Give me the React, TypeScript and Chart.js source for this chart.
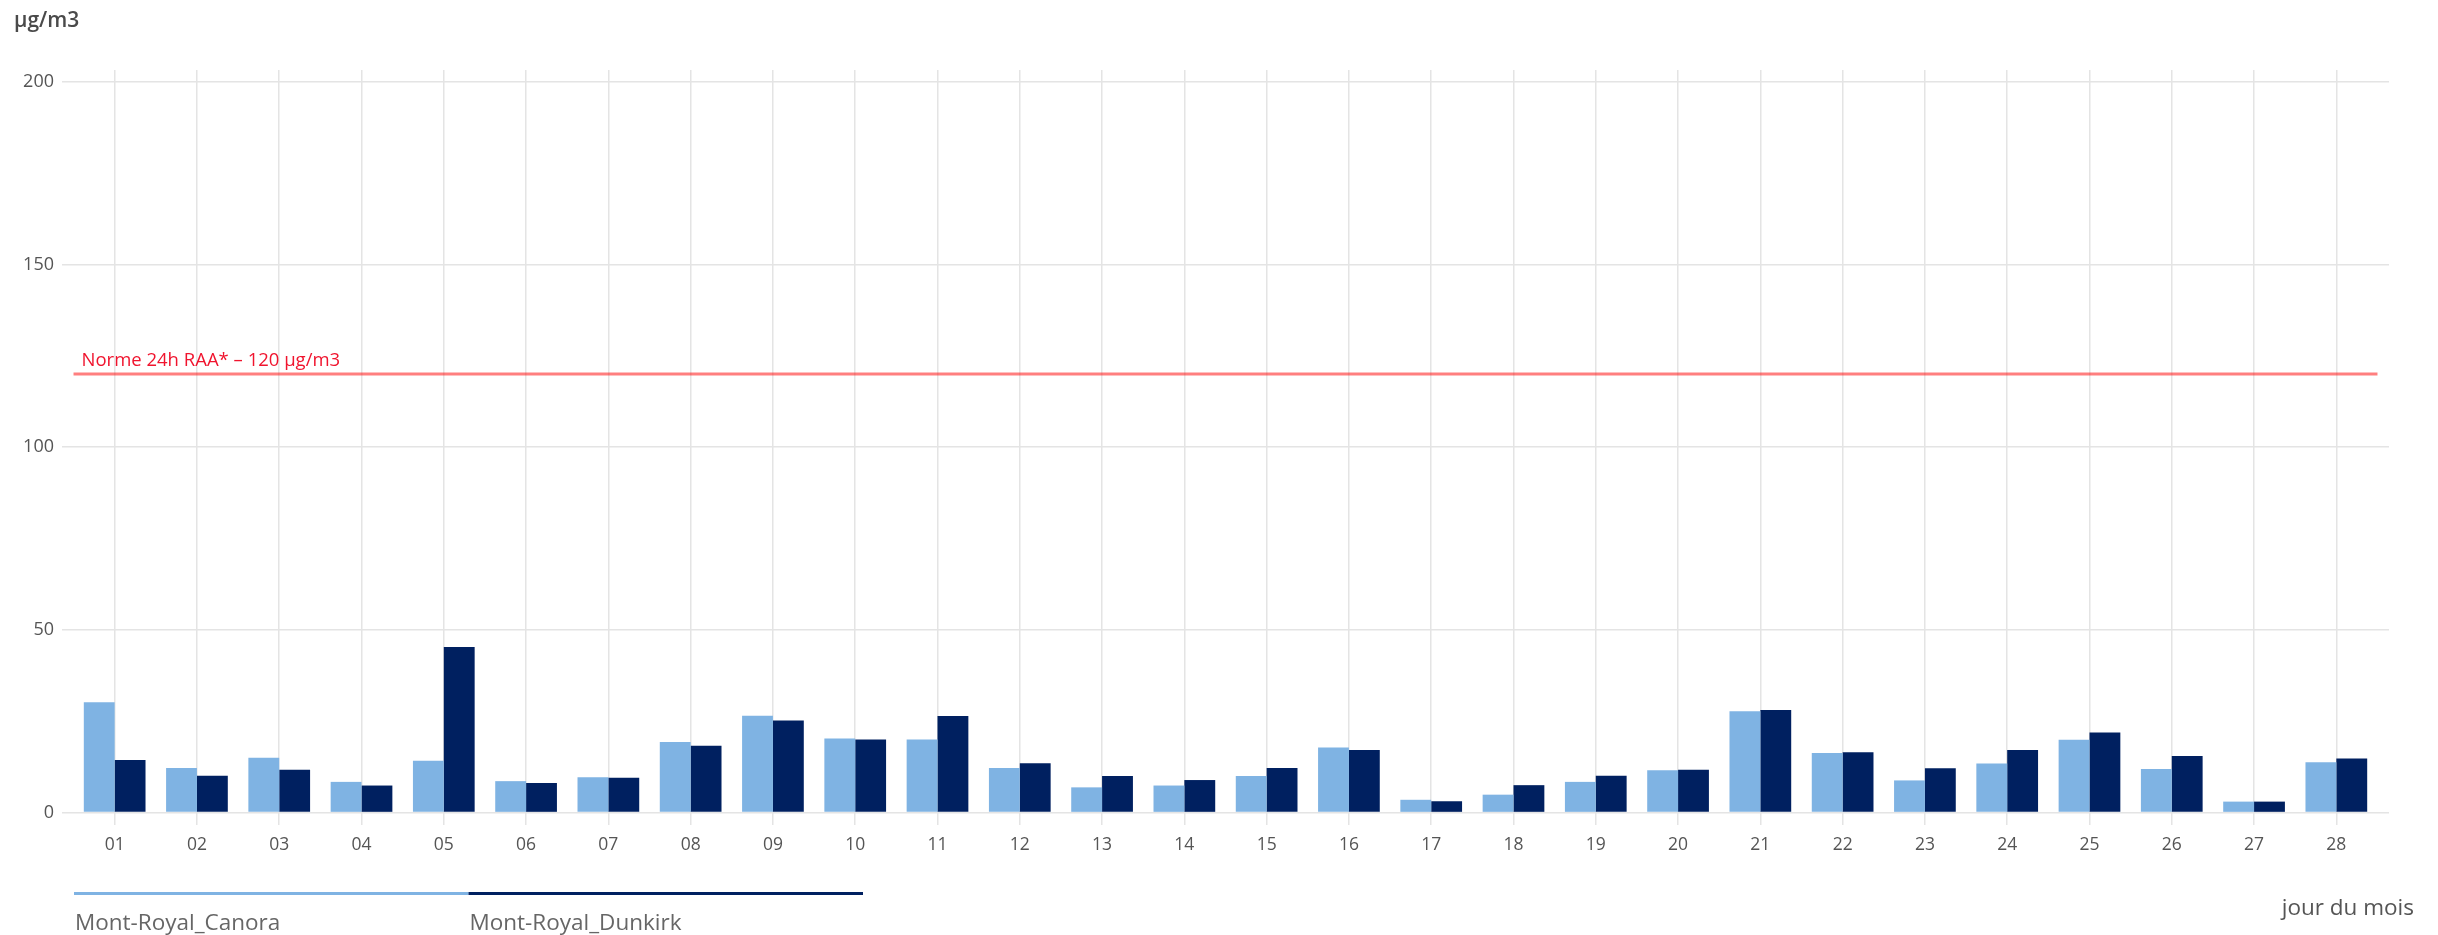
import React, { useEffect, useRef } from "react";
import { Chart, registerables } from "chart.js";

Chart.register(...registerables);

const categories = ["01","02","03","04","05","06","07","08","09","10","11","12","13","14","15","16","17","18","19","20","21","22","23","24","25","26","27","28"];
const canora = [30.2,12.2,15.0,8.4,14.2,8.6,9.7,19.3,26.5,20.3,20.0,12.2,6.9,7.4,10.0,17.8,3.5,4.9,8.4,11.6,27.7,16.3,8.8,13.4,19.9,11.9,3.0,13.8];
const dunkirk = [14.4,10.1,11.7,7.4,45.3,8.1,9.5,18.3,25.2,20.0,26.4,13.5,10.0,8.9,12.2,17.1,3.1,7.5,10.1,11.7,28.1,16.5,12.1,17.1,21.9,15.5,3.0,14.8];
const yTicks = [0, 50, 100, 150, 200];
const normeValue = 120;
const normeLabel = "Norme 24h RAA* – 120 µg/m3";
const seriesNames = ["Mont-Royal_Canora", "Mont-Royal_Dunkirk"];
const seriesColors = ["#7FB3E3", "#002060"];
const yTitle = "µg/m3";
const xTitle = "jour du mois";

const FONT = "'Open Sans', 'Noto Sans', sans-serif";

export default function App() {
  const ref = useRef<HTMLCanvasElement | null>(null);

  useEffect(() => {
    document.body.style.margin = "0";
    const canvas = ref.current;
    if (!canvas) return;

    const overlay = {
      id: "overlay",
      afterDraw(chart: any) {
        const ctx = chart.ctx;
        const xs = chart.scales.x;
        const ys = chart.scales.y;
        ctx.save();
        // norme label
        ctx.fillStyle = "#F0142E";
        ctx.font = `18.5px ${FONT}`;
        ctx.textAlign = "left";
        ctx.textBaseline = "alphabetic";
        ctx.fillText(normeLabel, xs.getPixelForValue(-0.5) + 8, ys.getPixelForValue(normeValue) - 8);
        // y title
        ctx.fillStyle = "#4A4A4A";
        ctx.font = `600 21px ${FONT}`;
        ctx.fillText(yTitle, 14, 27);
        // x title
        ctx.fillStyle = "#555555";
        ctx.font = `22.5px ${FONT}`;
        ctx.textAlign = "right";
        ctx.fillText(xTitle, 2414, 915);
        // legend
        const segStart = 74;
        const segW = 394.5;
        seriesNames.forEach((name, i) => {
          const x0 = segStart + i * segW;
          ctx.fillStyle = seriesColors[i];
          ctx.fillRect(x0, 892, segW, 3);
          ctx.fillStyle = "#666666";
          ctx.font = `22.5px ${FONT}`;
          ctx.textAlign = "left";
          ctx.fillText(name, x0 + 1, 930);
        });
        ctx.restore();
      },
    };

    const chart = new Chart(canvas, {
      type: "bar",
      data: {
        datasets: [
          {
            type: "bar",
            label: seriesNames[0],
            data: categories.map((_, i) => ({ x: i, y: canora[i] })),
            backgroundColor: seriesColors[0],
            barPercentage: 1,
            categoryPercentage: 0.75,
          },
          {
            type: "bar",
            label: seriesNames[1],
            data: categories.map((_, i) => ({ x: i, y: dunkirk[i] })),
            backgroundColor: seriesColors[1],
            barPercentage: 1,
            categoryPercentage: 0.75,
          },
          {
            type: "line",
            label: "norme",
            data: [
              { x: -0.5, y: normeValue },
              { x: categories.length - 0.5, y: normeValue },
            ],
            borderColor: "rgba(255,0,0,0.5)",
            borderWidth: 3,
            pointRadius: 0,
            fill: false,
          },
        ],
      } as any,
      options: {
        animation: false,
        responsive: false,
        maintainAspectRatio: false,
        devicePixelRatio: 1,
        layout: { padding: { top: 70, left: 0, right: 49, bottom: 0 } },
        plugins: {
          legend: { display: false },
          tooltip: { enabled: false },
        },
        scales: {
          x: {
            type: "linear",
            min: -0.64,
            max: categories.length - 1 + 0.64,
            offset: false,
            afterBuildTicks: (s: any) => {
              s.ticks = categories.map((_, i) => ({ value: i }));
            },
            afterFit: (s: any) => {
              s.height = 110;
            },
            ticks: {
              autoSkip: false,
              maxRotation: 0,
              padding: 10,
              color: "#555555",
              font: { family: FONT, size: 17.5 },
              callback: (v: any) => categories[Math.round(v)] ?? "",
            },
            grid: { color: "#E4E4E4", lineWidth: 1.5, drawTicks: false, offset: false },
            border: { display: false },
          },
          y: {
            type: "linear",
            min: -3.4,
            max: 203.2,
            afterBuildTicks: (s: any) => {
              s.ticks = yTicks.map((v) => ({ value: v }));
            },
            afterFit: (s: any) => {
              s.width = 62;
            },
            ticks: {
              padding: 8,
              color: "#555555",
              font: { family: FONT, size: 18 },
            },
            grid: { color: "#E4E4E4", lineWidth: 1.5, drawTicks: false },
            border: { display: false },
          },
        },
      } as any,
      plugins: [overlay],
    });

    return () => chart.destroy();
  }, []);

  return (
    <div style={{ width: 2438, height: 935, position: "relative", background: "#fff" }}>
      <canvas ref={ref} width={2438} height={935} style={{ display: "block", width: 2438, height: 935 }} />
    </div>
  );
}
